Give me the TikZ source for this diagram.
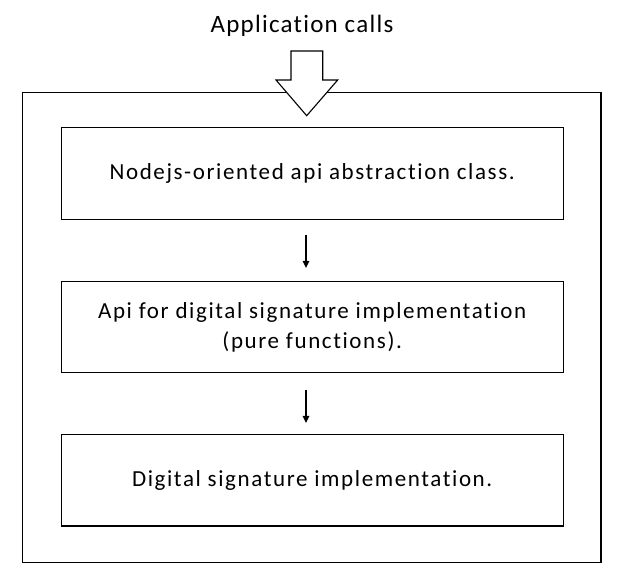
\documentclass[tikz,border=0pt]{standalone}
\usepackage{fontspec}
\setmainfont[Ligatures=NoCommon]{Carlito}
\newfontfamily\boxfont[LetterSpace=7,Ligatures=NoCommon]{Carlito}
\newfontfamily\titlefont[LetterSpace=5,Ligatures=NoCommon]{Carlito}
\usetikzlibrary{arrows.meta}
\tikzset{
  layerbox/.style={draw=black, line width=1.1pt, minimum width=501.7pt, minimum height=91.7pt, inner sep=0pt, align=center, font=\boxfont\fontsize{23}{30}\selectfont},
  frame/.style={draw=black, line width=1.1pt},
  flow/.style={draw=black, line width=1.4pt, -{Triangle[width=6.5pt,length=7pt]}},
  bigarrow/.style={draw=black, fill=white, line width=1.1pt, line join=miter},
  title/.style={font=\titlefont\fontsize{25}{28}\selectfont, inner sep=0pt}
}
\begin{document}
\begin{tikzpicture}[x=1pt,y=-1pt]
\useasboundingbox (0,0) rectangle (622,585);
\fill[white] (0,0) rectangle (622,585);
\draw[frame] (22.5,92.5) rectangle (601,562.3);
\node[layerbox] (l1) at (312.2,173.8) {Nodejs-oriented api abstraction class.};
\node[layerbox] (l2) at (312.2,327) {Api for digital signature implementation\\(pure functions).};
\node[layerbox] (l3) at (312.2,480.2) {Digital signature implementation.};
\coordinate (a1s) at (306,235);
\coordinate (a1e) at (306,268);
\coordinate (a2s) at (306,390);
\coordinate (a2e) at (306,423);
\draw[flow] (a1s) -- (a1e);
\draw[flow] (a2s) -- (a2e);
\node[title, anchor=base] (t) at (302,33) {Application calls};
\draw[bigarrow] (291,51) -- (322.7,51) -- (322.7,80) -- (337.7,80) -- (306.7,115.7) -- (276,80) -- (291,80) -- cycle;
\end{tikzpicture}
\end{document}
